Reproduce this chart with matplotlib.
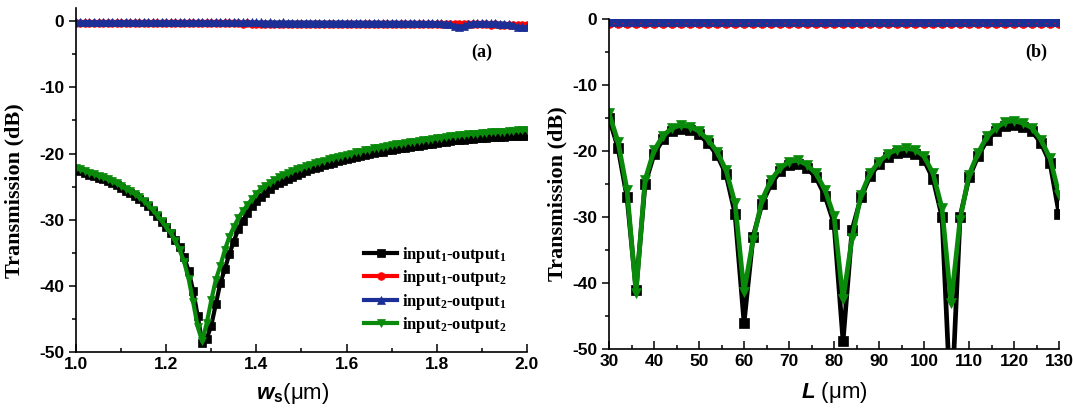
import numpy as np
import matplotlib
matplotlib.use("Agg")
import matplotlib.pyplot as plt
from matplotlib.ticker import MultipleLocator

plt.rcParams['mathtext.fontset'] = 'custom'
plt.rcParams['mathtext.rm'] = 'Liberation Serif:bold'
plt.rcParams['mathtext.it'] = 'Liberation Serif:italic'
plt.rcParams['mathtext.bf'] = 'Liberation Serif:bold'
plt.rcParams['mathtext.sf'] = 'Liberation Sans:bold'
plt.rcParams['mathtext.bfit'] = 'Liberation Sans:bold:italic'

# ---------------- panel (a) data ----------------
ws = np.linspace(1.0, 2.0, 101)

a_in1_out1 = [
    -22.5, -22.7, -22.9, -23.2, -23.4, -23.7, -23.9, -24.2, -24.5, -24.8,
    -25.2, -25.6, -26.0, -26.4, -26.9, -27.4, -28.0, -28.7, -29.5, -30.3,
    -31.1, -32.0, -33.0, -34.2, -35.7, -37.8, -40.8, -44.6, -48.6, -48.0,
    -46.0, -42.8, -39.6, -37.5, -35.2, -33.3, -31.4, -30.2, -29.0, -28.0,
    -27.1, -26.5, -25.9, -25.3, -24.8, -24.4, -24.1, -23.8, -23.5, -23.2,
    -22.9, -22.6, -22.4, -22.2, -22.0, -21.8, -21.6, -21.4, -21.2, -21.0,
    -20.9, -20.7, -20.5, -20.4, -20.2, -20.1, -19.9, -19.8, -19.7, -19.5,
    -19.4, -19.3, -19.2, -19.1, -19.0, -18.9, -18.8, -18.7, -18.6, -18.5,
    -18.4, -18.3, -18.2, -18.1, -18.0, -17.95, -17.9, -17.8, -17.75, -17.7,
    -17.65, -17.6, -17.55, -17.5, -17.5, -17.45, -17.4, -17.4, -17.35, -17.3,
    -17.3]

a_in1_out2 = [
    -0.30, -0.31, -0.30, -0.31, -0.30, -0.30, -0.31, -0.30, -0.31, -0.30,
    -0.31, -0.30, -0.31, -0.31, -0.30, -0.31, -0.31, -0.32, -0.31, -0.32,
    -0.32, -0.31, -0.32, -0.32, -0.33, -0.32, -0.33, -0.33, -0.32, -0.33,
    -0.33, -0.34, -0.33, -0.34, -0.34, -0.33, -0.34, -0.35, -0.34, -0.35,
    -0.35, -0.35, -0.36, -0.35, -0.36, -0.36, -0.37, -0.36, -0.37, -0.37,
    -0.38, -0.37, -0.38, -0.38, -0.39, -0.38, -0.39, -0.40, -0.39, -0.40,
    -0.40, -0.41, -0.40, -0.41, -0.42, -0.41, -0.42, -0.42, -0.43, -0.42,
    -0.43, -0.44, -0.43, -0.44, -0.44, -0.45, -0.44, -0.45, -0.46, -0.45,
    -0.46, -0.46, -0.47, -0.46, -0.47, -0.48, -0.47, -0.48, -0.48, -0.49,
    -0.48, -0.49, -0.50, -0.49, -0.50, -0.50, -0.51, -0.52, -0.53, -0.54,
    -0.55]

a_in2_out1 = [
    -0.15, -0.16, -0.15, -0.15, -0.16, -0.15, -0.15, -0.16, -0.15, -0.16,
    -0.15, -0.15, -0.16, -0.15, -0.16, -0.16, -0.15, -0.16, -0.16, -0.15,
    -0.16, -0.16, -0.17, -0.16, -0.16, -0.17, -0.16, -0.17, -0.17, -0.16,
    -0.17, -0.17, -0.18, -0.17, -0.17, -0.18, -0.17, -0.18, -0.18, -0.17,
    -0.18, -0.18, -0.19, -0.18, -0.19, -0.19, -0.18, -0.19, -0.19, -0.20,
    -0.19, -0.20, -0.20, -0.19, -0.20, -0.21, -0.20, -0.21, -0.21, -0.20,
    -0.21, -0.22, -0.21, -0.22, -0.22, -0.23, -0.22, -0.23, -0.23, -0.24,
    -0.23, -0.24, -0.25, -0.24, -0.25, -0.26, -0.25, -0.26, -0.27, -0.28,
    -0.30, -0.32, -0.35, -0.45, -0.72, -0.80, -0.75, -0.45, -0.32, -0.30,
    -0.30, -0.31, -0.32, -0.33, -0.35, -0.38, -0.45, -0.60, -0.85, -0.90,
    -0.88]

a_in2_out2 = [
    -22.2, -22.4, -22.6, -22.9, -23.1, -23.4, -23.6, -23.9, -24.2, -24.5,
    -24.9, -25.3, -25.7, -26.1, -26.6, -27.1, -27.8, -28.5, -29.3, -30.2,
    -31.1, -32.0, -33.2, -34.6, -36.4, -39.0, -42.5, -46.2, -48.4, -45.6,
    -42.2, -39.1, -37.0, -34.6, -32.6, -31.1, -29.8, -28.7, -27.8, -26.9,
    -26.1, -25.4, -24.9, -24.4, -24.0, -23.6, -23.3, -23.0, -22.7, -22.4,
    -22.2, -21.9, -21.7, -21.5, -21.3, -21.1, -20.9, -20.7, -20.5, -20.3,
    -20.2, -20.0, -19.8, -19.7, -19.5, -19.4, -19.2, -19.1, -19.0, -18.8,
    -18.7, -18.6, -18.5, -18.4, -18.3, -18.2, -18.1, -18.0, -17.9, -17.8,
    -17.7, -17.6, -17.5, -17.4, -17.3, -17.25, -17.2, -17.1, -17.0, -17.0,
    -16.9, -16.9, -16.8, -16.8, -16.7, -16.7, -16.6, -16.6, -16.5, -16.5,
    -16.4]

# ---------------- panel (b) data ----------------
L = np.arange(30, 131, 2)

b_in1_out1 = [
    -15.0, -19.5, -27.0, -41.0, -25.0, -20.5, -18.2, -17.0, -16.6, -16.8,
    -17.5, -18.8, -20.6, -23.5, -29.5, -46.0, -33.0, -28.0, -25.0, -23.1,
    -22.1, -21.9, -22.6, -24.0, -26.8, -31.0, -48.8, -32.0, -27.0, -23.8,
    -22.0, -20.9, -20.3, -20.1, -20.4, -21.4, -24.2, -30.0, -60.0, -30.0,
    -24.0, -20.8, -18.3, -17.0, -16.2, -16.0, -16.3, -17.0, -18.8, -21.8,
    -29.5]

b_in1_out2 = [
    -0.55, -0.58, -0.55, -0.57, -0.60, -0.56, -0.58, -0.62, -0.57, -0.55,
    -0.58, -0.56, -0.60, -0.57, -0.55, -0.58, -0.56, -0.59, -0.57, -0.55,
    -0.58, -0.57, -0.60, -0.56, -0.55, -0.58, -0.56, -0.59, -0.57, -0.55,
    -0.58, -0.56, -0.60, -0.57, -0.55, -0.58, -0.56, -0.59, -0.57, -0.55,
    -0.58, -0.56, -0.60, -0.57, -0.55, -0.58, -0.56, -0.59, -0.57, -0.55,
    -0.56]

b_in2_out1 = [
    -0.25, -0.26, -0.25, -0.25, -0.26, -0.25, -0.26, -0.25, -0.25, -0.26,
    -0.25, -0.26, -0.25, -0.25, -0.26, -0.25, -0.26, -0.25, -0.25, -0.26,
    -0.25, -0.26, -0.25, -0.25, -0.26, -0.25, -0.26, -0.25, -0.25, -0.26,
    -0.25, -0.26, -0.25, -0.25, -0.26, -0.25, -0.26, -0.25, -0.25, -0.26,
    -0.25, -0.26, -0.25, -0.25, -0.26, -0.25, -0.26, -0.25, -0.25, -0.26,
    -0.25]

b_in2_out2 = [
    -14.3, -18.6, -25.9, -41.5, -24.4, -19.9, -17.7, -16.5, -16.1, -16.3,
    -17.0, -18.3, -20.1, -22.9, -27.9, -41.3, -33.5, -27.4, -24.4, -22.6,
    -21.6, -21.4, -22.1, -23.4, -25.9, -29.9, -42.5, -33.2, -26.6, -23.4,
    -21.6, -20.4, -19.8, -19.6, -19.8, -20.8, -23.4, -28.7, -43.0, -30.4,
    -23.6, -20.3, -17.8, -16.5, -15.6, -15.4, -15.8, -16.5, -18.3, -21.1,
    -26.6]

labels = ['input$_1$-output$_1$', 'input$_1$-output$_2$',
          'input$_2$-output$_1$', 'input$_2$-output$_2$']
colors = ['#000000', '#ff0000', '#1c2f96', '#0a8a0a']
markers = ['s', 'o', '^', 'v']

fig = plt.figure(figsize=(10.73, 4.11), dpi=100)
ax1 = fig.add_axes([0.0708, 0.1436, 0.4203, 0.8369])
ax2 = fig.add_axes([0.5676, 0.1509, 0.4194, 0.8029])

series_a = [a_in1_out1, a_in1_out2, a_in2_out1, a_in2_out2]
for ys, c, m, lab in zip(series_a, colors, markers, labels):
    ax1.plot(ws, ys, color=c, marker=m, ms=5.5, lw=3.0, label=lab,
             markeredgewidth=0.5, markeredgecolor=c)

series_b = [b_in1_out1, b_in1_out2, b_in2_out1, b_in2_out2]
for ys, c, m, lab in zip(series_b, colors, markers, labels):
    ax2.plot(L, ys, color=c, marker=m, ms=7, lw=3.4, label=lab,
             markeredgewidth=0.5, markeredgecolor=c)

tickfont = dict(family='Liberation Sans', weight='bold', size=12.5)

for ax in (ax1, ax2):
    ax.spines['top'].set_visible(False)
    ax.spines['right'].set_visible(False)
    for s in ('left', 'bottom'):
        ax.spines[s].set_linewidth(1.2)
    ax.yaxis.set_major_locator(MultipleLocator(10))
    ax.yaxis.set_minor_locator(MultipleLocator(5))
    ax.tick_params(axis='x', which='major', direction='in', length=6, width=1.1)
    ax.tick_params(axis='x', which='minor', direction='in', length=3, width=1.1)
    ax.tick_params(axis='y', which='major', direction='out', length=5, width=1.1)
    ax.tick_params(axis='y', which='minor', direction='out', length=3, width=1.1)
    ax.set_ylabel('Transmission (dB)', family='Liberation Serif',
                  weight='bold', size=16)

ax1.set_xlim(1.0, 2.0)
ax1.set_ylim(-50, 2)
ax1.xaxis.set_major_locator(MultipleLocator(0.2))
ax1.xaxis.set_minor_locator(MultipleLocator(0.1))
ax1.set_xticks(ax1.get_xticks())
ax1.set_xticklabels(['%.1f' % v for v in ax1.get_xticks()], **tickfont)
ax1.set_yticks(ax1.get_yticks())
ax1.set_yticklabels(['%d' % v for v in ax1.get_yticks()], **tickfont)
ax1.set_xlim(1.0, 2.0)
ax1.set_ylim(-50, 2)

ax2.set_xlim(30, 130)
ax2.set_ylim(-50, 0)
ax2.xaxis.set_major_locator(MultipleLocator(10))
ax2.xaxis.set_minor_locator(MultipleLocator(5))
ax2.set_xticks(ax2.get_xticks())
ax2.set_xticklabels(['%d' % v for v in ax2.get_xticks()], **tickfont)
ax2.set_yticks(ax2.get_yticks())
ax2.set_yticklabels(['%d' % v for v in ax2.get_yticks()], **tickfont)
ax2.set_xlim(30, 130)
ax2.set_ylim(-50, 0)

ax1.yaxis.set_label_coords(-0.115, 0.47)
ax2.yaxis.set_label_coords(-0.093, 0.47)

ax1.set_xlabel(r'$\mathbfit{w}_{\mathsf{s}}$(μm)', family='Liberation Sans', size=16)
ax2.set_xlabel(r'$\mathbfit{L}$ (μm)', family='Liberation Sans', size=16)
ax1.xaxis.set_label_coords(0.48, -0.085)
ax2.xaxis.set_label_coords(0.5, -0.095)

ax1.text(0.90, 0.87, '(a)', transform=ax1.transAxes, ha='center', va='center',
         family='Liberation Serif', weight='bold', size=13)
ax2.text(0.95, 0.90, '(b)', transform=ax2.transAxes, ha='center', va='center',
         family='Liberation Serif', weight='bold', size=13)

leg = ax1.legend(loc='lower right', bbox_to_anchor=(0.97, 0.03), frameon=False,
                 prop=dict(family='Liberation Serif', weight='bold', size=12),
                 handlelength=2.0, handletextpad=0.3, labelspacing=0.2,
                 borderaxespad=0.0)

fig.savefig('out.png', dpi=100)
